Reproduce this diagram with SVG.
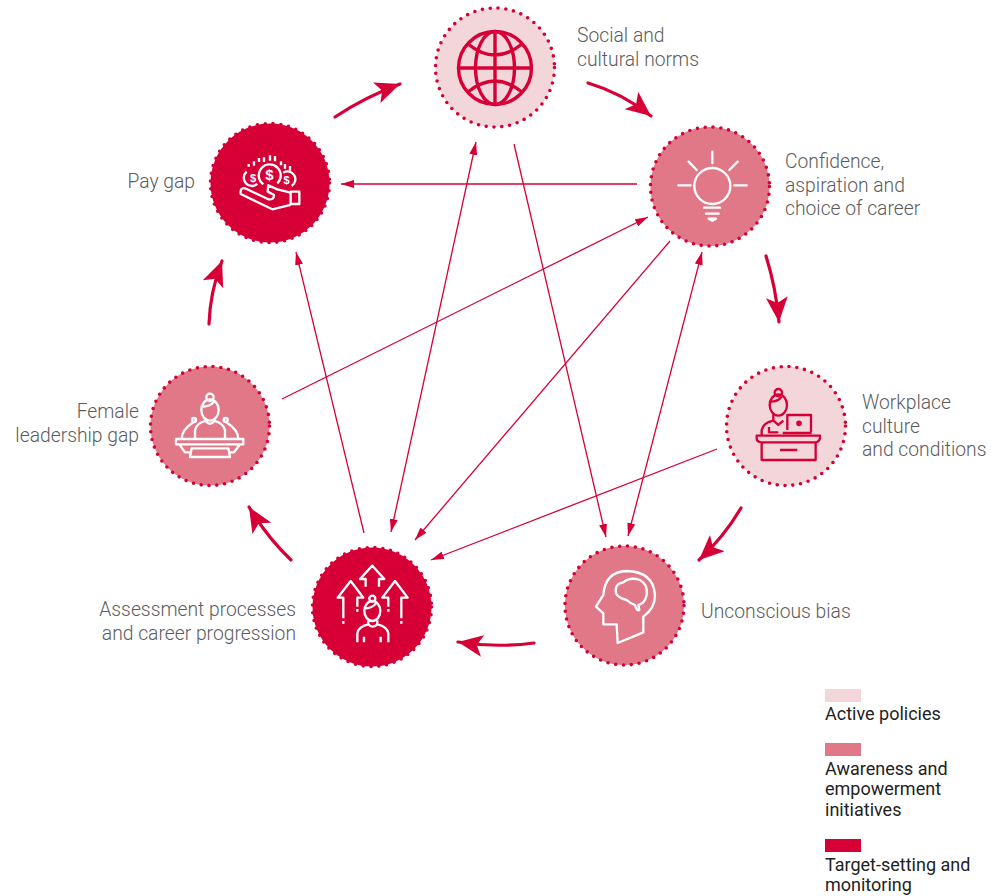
<svg xmlns="http://www.w3.org/2000/svg" width="993" height="896" viewBox="0 0 993 896">
<style>
text{font-family:Roboto,"Noto Sans","Liberation Sans",sans-serif;font-weight:300;font-size:19.3px;fill:#5c5c5c}
.lg{font-size:18px;font-weight:400;fill:#222}
.c{stroke:#d60036;stroke-width:3.6;stroke-linecap:round;stroke-dasharray:0 7.86;fill:none}
.l{fill:#f3d6d9}.m{fill:#e07888}.d{fill:#d60036}
.ic{fill:none;stroke-width:7;stroke-linejoin:round;stroke-linecap:butt}
.w{stroke:#fff}.r{stroke:#d60036}
.thin{fill:none;stroke:#d60036;stroke-width:1.3}
.thick{fill:none;stroke:#d60036;stroke-width:3.2;stroke-linecap:round}
.dl{font-size:15px;font-weight:700;fill:#fff;font-family:"Liberation Sans",sans-serif}
.ds{font-size:11px}
</style>
<defs>
<marker id="h" markerUnits="userSpaceOnUse" markerWidth="14" markerHeight="8" viewBox="0 0 14 8" refX="13" refY="4" orient="auto-start-reverse"><path d="M0,0L13,4L0,8Z" fill="#d60036"/></marker>
<marker id="H" markerUnits="userSpaceOnUse" markerWidth="26" markerHeight="22" viewBox="0 0 26 22" refX="25" refY="11" orient="auto"><path d="M0,0L25,11L0,22L6,11Z" fill="#d60036"/></marker>
</defs>
<g id="connectors">
<path class="thin" marker-end="url(#h)" d="M637,184H341"/>
<path class="thin" marker-start="url(#h)" marker-end="url(#h)" d="M476,142L391,532"/>
<path class="thin" marker-end="url(#h)" d="M514,144L606,537"/>
<path class="thin" marker-end="url(#h)" d="M364,533L296,252"/>
<path class="thin" marker-end="url(#h)" d="M282,399L648,217"/>
<path class="thin" marker-end="url(#h)" d="M670,241L415,540"/>
<path class="thin" marker-start="url(#h)" marker-end="url(#h)" d="M702,252L628,536"/>
<path class="thin" marker-end="url(#h)" d="M717,449L431,560"/>
<path class="thick" marker-end="url(#H)" d="M335,117Q365,97 400,84"/>
<path class="thick" marker-end="url(#H)" d="M588,83Q622,93 651,116"/>
<path class="thick" marker-end="url(#H)" d="M766,256Q776,288 779,322"/>
<path class="thick" marker-end="url(#H)" d="M741,508Q724,537 699,560"/>
<path class="thick" marker-end="url(#H)" d="M534,643Q496,648 458,642"/>
<path class="thick" marker-end="url(#H)" d="M291,560Q267,537 249,507"/>
<path class="thick" marker-end="url(#H)" d="M209,324Q210,292 222,261"/>
</g>
<g id="social">
<circle class="l" cx="495" cy="67.500" r="59.500"/><circle class="c" cx="495" cy="67.500" r="59.500"/>
<g class="ic r" transform="translate(495,68)" style="stroke-width:3.4"><circle r="36.500"/><ellipse rx="19.500" ry="36.500"/><path d="M0-36.500V36.500M-36.500,0H36.500M-27,-24Q0,-2 27,-24M-27,24Q0,2 27,24"/></g>
<text x="577" y="42">Social and</text><text x="577" y="66">cultural norms</text>
</g>
<g id="confidence">
<circle class="m" cx="710" cy="186.500" r="59.500"/><circle class="c" cx="710" cy="186.500" r="59.500"/>
<g class="ic w" transform="translate(640,120) scale(.3333)"><circle cx="217" cy="198" r="54"/><path stroke-linecap="round" d="M217,95V130M146,125L170,150M293,125L268,150M115,196H152M283,196H320M192,263H240M198,281H236"/><path d="M206,296H228L217,302Z"/></g>
<text x="785" y="168">Confidence,</text><text x="785" y="192">aspiration and</text><text x="785" y="215">choice of career</text>
</g>
<g id="workplace">
<circle class="l" cx="786" cy="426" r="59.500"/><circle class="c" cx="786" cy="426" r="59.500"/>
<g class="ic r" transform="translate(715,355) scale(.3333)"><path d="M125,242H315V250Q312,262 300,262H140Q125,262 125,250ZM140,262V315H302V262M195,285H247"/><path d="M217,225V180H288V230M203,234H290"/><circle cx="252" cy="205" r="5" fill="#d60036"/><ellipse cx="190" cy="150" rx="26" ry="32"/><circle cx="190" cy="113" r="11"/><path d="M166,140Q190,140 200,125M175,178V197L190,210L205,197M140,242V225Q145,205 172,198M162,216V232H190"/></g>
<text x="862" y="409">Workplace</text><text x="862" y="433">culture</text><text x="862" y="456">and conditions</text>
</g>
<g id="unconscious">
<circle class="m" cx="624.500" cy="605.500" r="59.500"/><circle class="c" cx="624.500" cy="605.500" r="59.500"/>
<g class="ic w" transform="translate(555,535) scale(.3333)"><path d="M188,324L185,268H145V235L123,215L145,180Q150,110 215,108Q295,110 300,180Q300,220 265,245V292Z"/><path d="M183,175Q178,145 205,142Q225,125 255,135Q280,150 275,180Q270,205 250,210L253,225Q245,230 240,210Q225,205 215,195Q190,190 183,175Z"/></g>
<text x="701" y="618">Unconscious bias</text>
</g>
<g id="assessment">
<circle class="d" cx="372" cy="607" r="59.500"/><circle class="c" cx="372" cy="607" r="59.500"/>
<g class="ic w" transform="translate(300,535) scale(.3333)"><path d="M197,155V132H180L217,92L253,132H237V155M130,250V188H113L152,138L190,188H172V215M265,215V188H247L285,138L323,188H304V250"/><path d="M130,258V266M172,222V230M265,222V230M304,258V266"/><ellipse cx="217" cy="228" rx="24" ry="30"/><circle cx="217" cy="191" r="9"/><path d="M193,220Q217,220 228,205M172,322V295Q175,275 205,268V256M265,322V295Q262,275 232,268V256M205,268Q217,282 232,268M192,305V322M242,305V322"/></g>
<text x="296" y="616" text-anchor="end">Assessment processes</text><text x="296" y="640" text-anchor="end">and career progression</text>
</g>
<g id="female">
<circle class="m" cx="210" cy="426" r="59.500"/><circle class="c" cx="210" cy="426" r="59.500"/>
<g class="ic w" transform="translate(140,355) scale(.3333)"><path d="M108,252H310V268H108ZM118,268L135,292H150M300,268L282,292H268M155,280H265L270,306H150Z"/><ellipse cx="210" cy="165" rx="26" ry="32"/><circle cx="210" cy="127" r="11"/><path d="M186,155Q210,155 222,140M165,250V225Q170,205 197,198V190M255,250V225Q250,205 223,198V190M197,198Q210,215 223,198"/><circle cx="162" cy="195" r="6"/><circle cx="257" cy="195" r="6"/><path d="M160,202Q125,225 125,252M259,202Q295,225 295,252"/></g>
<text x="139" y="418" text-anchor="end">Female</text><text x="139" y="442" text-anchor="end">leadership gap</text>
</g>
<g id="paygap">
<circle class="d" cx="270" cy="183" r="59.500"/><circle class="c" cx="270" cy="183" r="59.500"/>
<g class="ic w" transform="translate(200,0) scale(.3333)"><path d="M272,578L232,568L205,556L203,575L222,585Q222,600 205,598L135,565Q120,562 122,582L217,628L272,615"/><path d="M272,575H298V612H272Z"/><path d="M190,553A33,33 0 1 1 232,550M172,552A23,23 0 1 1 140,515M250,518A22,22 0 1 1 275,558"/><path d="M146,492V500M162,484V497M177,474V486M192,472V486M210,466V482M225,468V484M243,484V496M255,492V506M270,498V512"/></g>
<text class="dl" x="269.500" y="180" text-anchor="middle">$</text><text class="dl ds" x="253" y="182" text-anchor="middle">$</text><text class="dl ds" x="286.500" y="184" text-anchor="middle">$</text>
<text x="195" y="188" text-anchor="end">Pay gap</text>
</g>
<g id="legend">
<rect class="l" x="825" y="689" width="36" height="13"/><text class="lg" x="825" y="720">Active policies</text>
<rect class="m" x="825" y="743" width="36" height="13"/><text class="lg" x="825" y="775">Awareness and</text><text class="lg" x="825" y="795">empowerment</text><text class="lg" x="825" y="816">initiatives</text>
<rect class="d" x="825" y="839" width="36" height="13"/><text class="lg" x="825" y="871">Target-setting and</text><text class="lg" x="825" y="891">monitoring</text>
</g>
</svg>
